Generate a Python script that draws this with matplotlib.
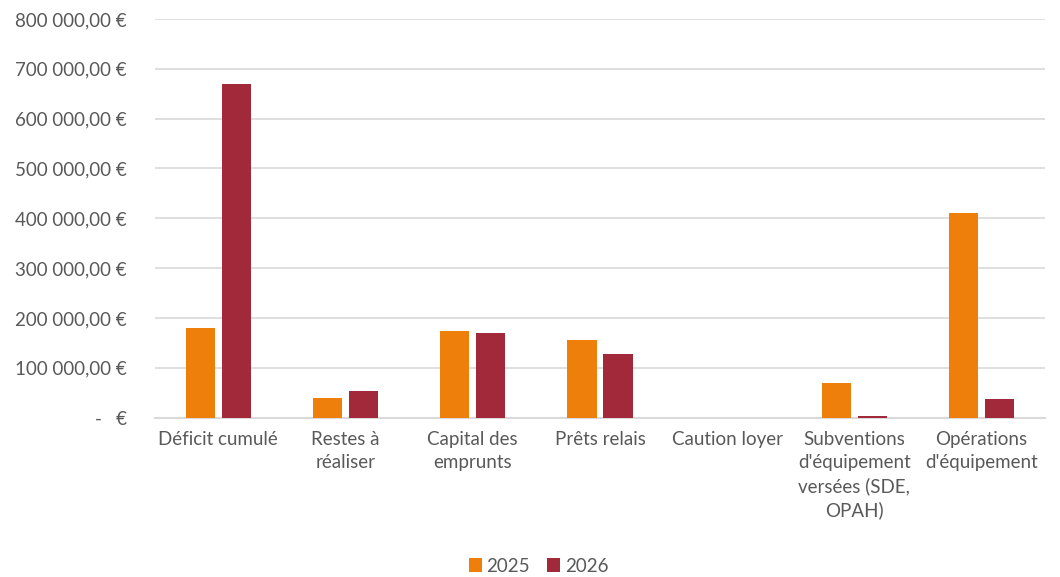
import numpy as np
import matplotlib.pyplot as plt
from matplotlib.ticker import FuncFormatter

# Data
categories = ["Déficit cumulé", "Restes à\nréaliser", "Capital des\nemprunts", "Prêts relais",
              "Caution loyer", "Subventions\nd'équipement\nversées (SDE,\nOPAH)",
              "Opérations\nd'équipement"]
values_2025 = [180000, 39000, 174000, 155000, 0, 69000, 411000]
values_2026 = [669000, 53000, 169000, 127000, 0, 4000, 38000]
series_labels = ["2025", "2026"]

plt.rcParams['font.family'] = ['Lato', 'DejaVu Sans']
text_col = '#595959'
fs = 13.5

fig = plt.figure(figsize=(10.6, 5.77), dpi=100)
ax = fig.add_axes([0.146, 0.2764, 0.84, 0.6906])

x = np.arange(len(categories))
w = 0.23
ax.bar(x - 0.142, values_2025, w, color='#EE7F0A', label=series_labels[0], zorder=3)
ax.bar(x + 0.142, values_2026, w, color='#A1293A', label=series_labels[1], zorder=3)

ax.set_xlim(-0.5, len(categories) - 0.5)
ax.set_ylim(0, 800000)
ax.set_yticks(np.arange(0, 800001, 100000))


def euro(v, pos):
    if v == 0:
        return "-   €"
    return f"{v:,.2f} €".replace(",", " ").replace(".", ",")


ax.yaxis.set_major_formatter(FuncFormatter(euro))
ax.set_xticks(x)
ax.set_xticklabels(categories, linespacing=1.42)
ax.tick_params(axis='both', length=0, labelsize=fs, colors=text_col)
ax.tick_params(axis='y', pad=20)
ax.tick_params(axis='x', pad=10)

ax.grid(axis='y', color='#d9d9d9', linewidth=1.2, zorder=0)
for s in ['top', 'right', 'left']:
    ax.spines[s].set_visible(False)
ax.spines['bottom'].set_color('#d9d9d9')
ax.spines['bottom'].set_linewidth(1.5)

fig.legend(loc='lower center', bbox_to_anchor=(0.508, -0.025), ncol=2, frameon=False,
           fontsize=fs, labelcolor=text_col, handlelength=0.7, handleheight=0.7,
           handletextpad=0.25, columnspacing=0.9)

fig.savefig('out.png', dpi=100)
